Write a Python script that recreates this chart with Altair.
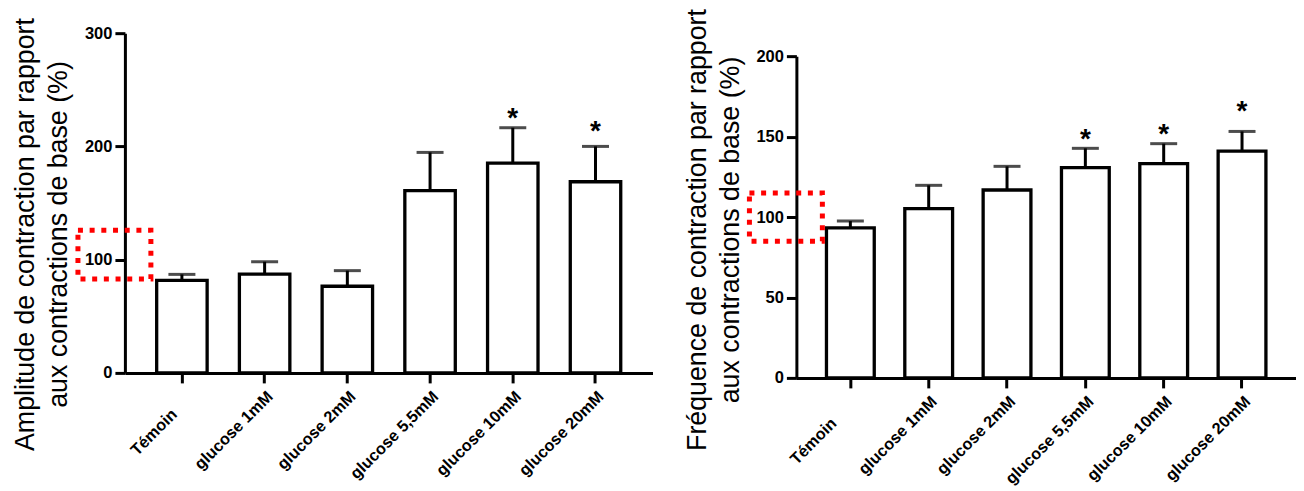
import altair as alt
import pandas as pd

FONT = "Liberation Sans"

categories = ["Témoin", "glucose 1mM", "glucose 2mM", "glucose 5,5mM", "glucose 10mM", "glucose 20mM"]

amp_mean = [81.7, 87.2, 76.5, 160.9, 185.3, 168.8]
amp_err = [5.3, 11.0, 13.8, 33.8, 31.2, 31.2]
amp_star = [None, None, None, None, 230.9, 219.8]

freq_mean = [93.2, 105.2, 116.8, 130.7, 133.2, 141.0]
freq_err = [4.3, 14.5, 14.7, 12.0, 12.4, 12.2]
freq_star = [None, None, None, 152.8, 155.9, 170.0]

amp_ticks = [0, 100, 200, 300]
freq_ticks = [0, 50, 100, 150, 200]

amp_title = ["Amplitude de contraction par rapport", "aux contractions de base (%)"]
freq_title = ["Fréquence de contraction par rapport", "aux contractions de base (%)"]

amp_box = [83, 126]
freq_box = [85, 115]


def panel(mean, err, star, ticks, title, box, width, height, yrange, title_y, first_shift):
    df = pd.DataFrame({
        "cat": categories,
        "mean": mean,
        "upper": [m + e for m, e in zip(mean, err)],
        "star": star,
    })
    sc_kwargs = dict(domain=[0, ticks[-1]], nice=False, zero=True)
    if yrange is not None:
        sc_kwargs["range"] = yrange
    yscale = alt.Scale(**sc_kwargs)
    yaxis = alt.Axis(
        values=ticks, title=title, titleFont=FONT, titleFontSize=26.8,
        titleFontWeight="normal", titleColor="black", titleX=-85.4, titleY=title_y,
        titleAlign="center", titleBaseline="bottom", titleLineHeight=33,
        labelFont=FONT, labelFontSize=16.5, labelFontWeight="bold", labelColor="black",
        labelPadding=3, tickSize=10, tickWidth=3, tickColor="black",
        domainWidth=3, domainColor="black", grid=False, format="d",
    )
    first = f"datum.label == '{categories[0]}'"
    xenc = alt.X(
        "cat:N", sort=categories,
        scale=alt.Scale(paddingInner=0.39, paddingOuter=0.384),
        axis=alt.Axis(
            title=None, labelAngle=-45, labelAlign="right", labelBaseline="top",
            labelOffset={"condition": {"test": first, "value": first_shift[0]}, "value": 0},
            labelPadding={"condition": {"test": first, "value": first_shift[1]}, "value": 5},
            labelFont=FONT, labelFontSize=16.3, labelFontWeight="bold", labelColor="black",
            tickSize=10, tickWidth=3, tickColor="black",
            domainWidth=3, domainColor="black", labelOverlap=False, grid=False,
        ),
    )
    base = alt.Chart(df).encode(x=xenc)
    bars = base.mark_bar(fill="white", stroke="black", strokeWidth=3.3).encode(
        y=alt.Y("mean:Q", scale=yscale, axis=yaxis)
    )
    rule = base.mark_rule(color="black", strokeWidth=3).encode(
        y=alt.Y("mean:Q", scale=yscale, axis=yaxis), y2="upper:Q"
    )
    cap = base.mark_tick(color="black", size=27, thickness=3, orient="horizontal").encode(
        y=alt.Y("upper:Q", scale=yscale, axis=yaxis)
    )
    stars = base.transform_filter("isValid(datum.star)").mark_text(
        text="*", font=FONT, fontSize=28, fontWeight="bold", color="black",
        baseline="alphabetic", dy=16,
    ).encode(y=alt.Y("star:Q", scale=yscale, axis=yaxis))
    boxdf = pd.DataFrame({"lo": [box[0]], "hi": [box[1]]})
    hl = alt.Chart(boxdf).mark_rect(
        fill="transparent", stroke="#ff0000", strokeWidth=5, strokeDash=[5, 6.7]
    ).encode(
        y=alt.Y("lo:Q", scale=yscale, axis=yaxis), y2="hi:Q",
        x=alt.value(-47), x2=alt.value(26),
    )
    return alt.layer(bars, rule, cap, stars, hl).properties(width=width, height=height)


left = panel(amp_mean, amp_err, amp_star, amp_ticks, amp_title, amp_box,
             528, 340, None, 201, (-13, 23))
right = panel(freq_mean, freq_err, freq_star, freq_ticks, freq_title, freq_box,
              500, 345, [345, 23], 196.5, (-22, 27))

chart = alt.hconcat(
    left, right, spacing=144, bounds="flush",
    padding={"left": 4, "top": 0, "right": 0, "bottom": 0},
).configure_view(strokeWidth=0).properties(background="white")

chart.save("out.html", embed_options={"renderer": "svg", "actions": False})
